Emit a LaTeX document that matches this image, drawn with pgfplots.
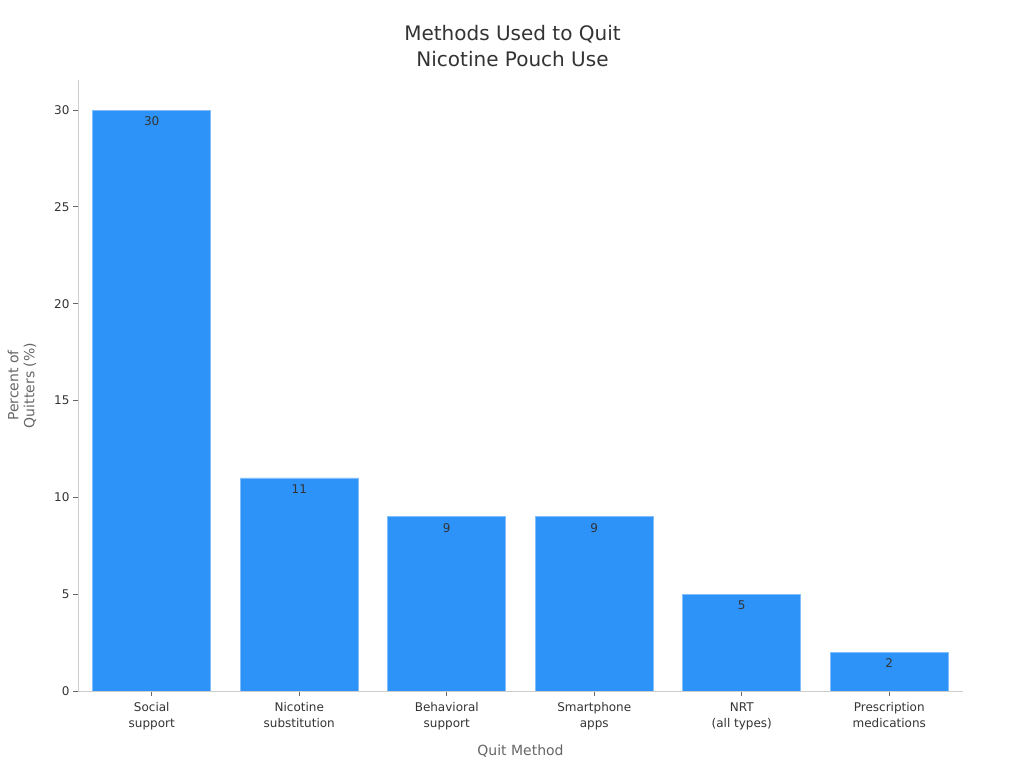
\documentclass[border=0pt]{standalone}
\usepackage{pgfplots}
\pgfplotsset{compat=1.18}
\usepackage{fontspec}
\setmainfont{DejaVu Sans}
\definecolor{barblue}{HTML}{2E93F9}
\definecolor{txt}{HTML}{333333}
\definecolor{lbl}{HTML}{666666}
\definecolor{spine}{HTML}{CCCCCC}
\begin{document}
\begin{tikzpicture}[x=1bp,y=1bp]
\useasboundingbox (-78,-77) rectangle (946,691);
\begin{axis}[
	at={(0,0)},anchor=south west,
	scale only axis,width=885bp,height=611bp,
	xmin=-0.5,xmax=5.5,ymin=0,ymax=31.55,
	axis lines*=left,
	axis line style={spine,line width=0.8bp},
	ybar,bar width=0.8,
	xtick=data,
	xticklabels={{Social\\support},{Nicotine\\substitution},{Behavioral\\support},{Smartphone\\apps},{NRT\\(all types)},{Prescription\\medications}},
	xticklabel style={align=center,font=\fontsize{12bp}{16bp}\selectfont,text=txt,yshift=-3bp},
	ytick={0,5,...,30},
	yticklabel style={font=\fontsize{12bp}{14bp}\selectfont,text=txt},
	/pgf/number format/assume math mode=true,
	tick style={lbl,line width=0.8bp},
	major tick length=5bp,
	tick align=outside,
	xlabel={Quit Method},
	ylabel={Percent of\\Quitters (\%)},
	label style={font=\fontsize{14bp}{16bp}\selectfont,text=lbl},
	ylabel style={align=center,at={(axis description cs:0,0.5)},anchor=center,yshift=56bp},
	xlabel style={yshift=-8bp},
	title={Methods Used to Quit\\Nicotine Pouch Use},
	title style={align=center,font=\fontsize{20bp}{26bp}\selectfont,text=txt,at={(axis description cs:0.5,1)},xshift=-8bp,yshift=4bp},
	nodes near coords,
	every node near coord/.append style={anchor=north,yshift=-3bp,font=\fontsize{12bp}{14bp}\selectfont,text=txt},
	]
\addplot[fill=barblue,draw=barblue!60!white,line width=0.8bp] coordinates {
	(0,30) (1,11) (2,9) (3,9) (4,5) (5,2)};
\end{axis}
\end{tikzpicture}
\end{document}
